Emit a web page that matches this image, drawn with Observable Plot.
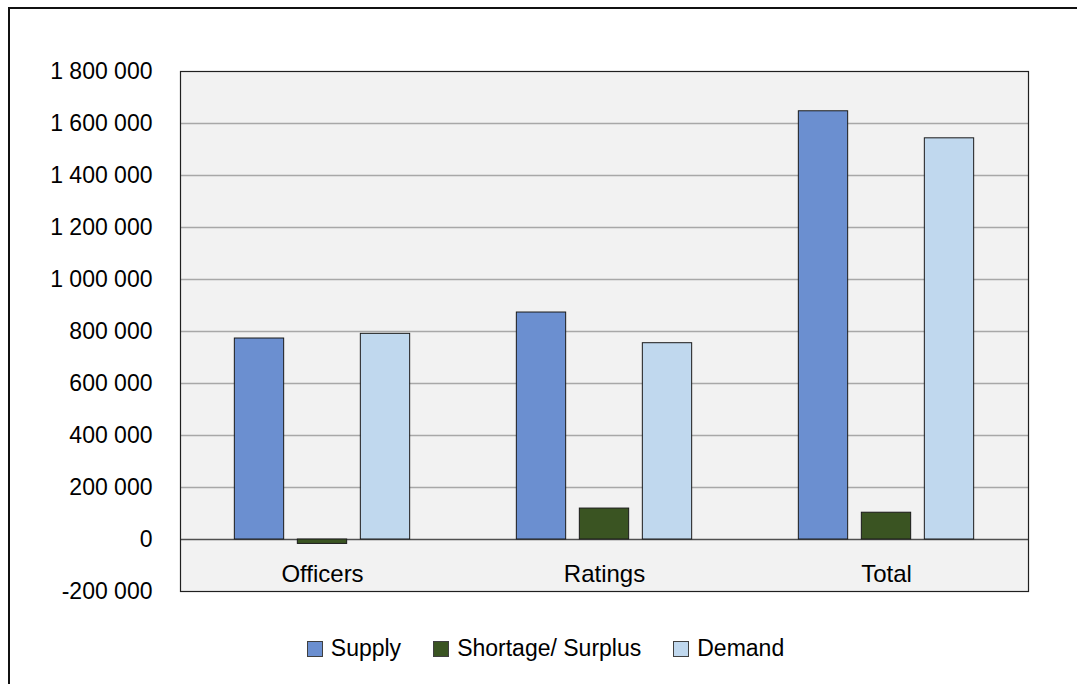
<!DOCTYPE html>
<html>
<head>
<meta charset="utf-8">
<script src="https://cdn.jsdelivr.net/npm/d3@7"></script>
<script src="https://cdn.jsdelivr.net/npm/@observablehq/plot@0.6"></script>
<style>
  html, body { margin: 0; padding: 0; background: #ffffff; overflow: hidden; }
  body { width: 1077px; height: 684px; position: relative; font-family: "Liberation Sans", Arial, sans-serif; }
  #border { position: absolute; left: 8px; top: 7px; width: 1090px; height: 700px; border: 2px solid #111; box-sizing: border-box; }
  #chart { position: absolute; left: 0; top: 0; }
  #legend { position: absolute; left: 0; top: 635px; width: 1077px; display: flex; justify-content: center; align-items: center; font-size: 23px; color: #000; padding-left: 14px; box-sizing: border-box; }
  .item { display: flex; align-items: center; margin: 0 16px; }
  .sw { width: 14px; height: 14px; border: 1px solid #404040; margin-right: 8px; }
</style>
</head>
<body>
<div id="border"></div>
<div id="chart"></div>
<div id="legend"></div>
<script>
const categories = ["Officers", "Ratings", "Total"];
const seriesNames = ["Supply", "Shortage/ Surplus", "Demand"];
const supply = [773000, 873000, 1647000];
const shortage = [-17000, 119000, 103000];
const demand = [791000, 755000, 1543000];
const yTicks = [-200000, 0, 200000, 400000, 600000, 800000, 1000000, 1200000, 1400000, 1600000, 1800000];
const colors = ["#6b8fd0", "#3a5422", "#c0d8ee"];

const rows = categories.map((c, i) => ({category: c, supply: supply[i], shortage: shortage[i], demand: demand[i]}));

const W = 1077, ML = 180, MR = 49, MT = 71, MB = 22, H = 613;
const bw = (W - ML - MR) / categories.length;
const barW = 50, step = 63;
const inset = (bw - barW) / 2;
const fmt = d => d3.format(",")(d).replace(/,/g, " ").replace(/\u2212/g, "-");

const chart = Plot.plot({
  width: W,
  height: H,
  marginLeft: ML,
  marginRight: MR,
  marginTop: MT,
  marginBottom: MB,
  style: {fontFamily: "'Liberation Sans', Arial, sans-serif", fontSize: "23px", color: "#000", background: "transparent"},
  x: {domain: categories, padding: 0, axis: null},
  y: {domain: [-200000, 1800000], ticks: yTicks, tickFormat: fmt, tickSize: 0, tickPadding: 28, label: null},
  marks: [
    Plot.frame({fill: "#f2f2f2"}),
    Plot.ruleY(yTicks.filter(d => d !== 0 && d !== -200000 && d !== 1800000), {stroke: "#a8a8a8", strokeWidth: 1.3}),
    Plot.ruleY([0], {stroke: "#505050", strokeWidth: 1.3}),
    Plot.barY(rows, {x: "category", y: "supply", dx: -step, insetLeft: inset, insetRight: inset, fill: colors[0], stroke: "#1a1a1a", strokeWidth: 1}),
    Plot.barY(rows, {x: "category", y: "shortage", insetLeft: inset, insetRight: inset, fill: colors[1], stroke: "#1a1a1a", strokeWidth: 1}),
    Plot.barY(rows, {x: "category", y: "demand", dx: step, insetLeft: inset, insetRight: inset, fill: colors[2], stroke: "#1a1a1a", strokeWidth: 1}),
    Plot.text(categories, {x: d => d, frameAnchor: "bottom", dy: -10, fontSize: 24, fill: "#000"}),
    Plot.frame({stroke: "#202020", strokeWidth: 1.2})
  ]
});
document.getElementById("chart").appendChild(chart);

const legend = document.getElementById("legend");
seriesNames.forEach((name, i) => {
  const item = document.createElement("div");
  item.className = "item";
  const sw = document.createElement("div");
  sw.className = "sw";
  sw.style.background = colors[i];
  const t = document.createElement("span");
  t.textContent = name;
  item.appendChild(sw);
  item.appendChild(t);
  legend.appendChild(item);
});
</script>
</body>
</html>
